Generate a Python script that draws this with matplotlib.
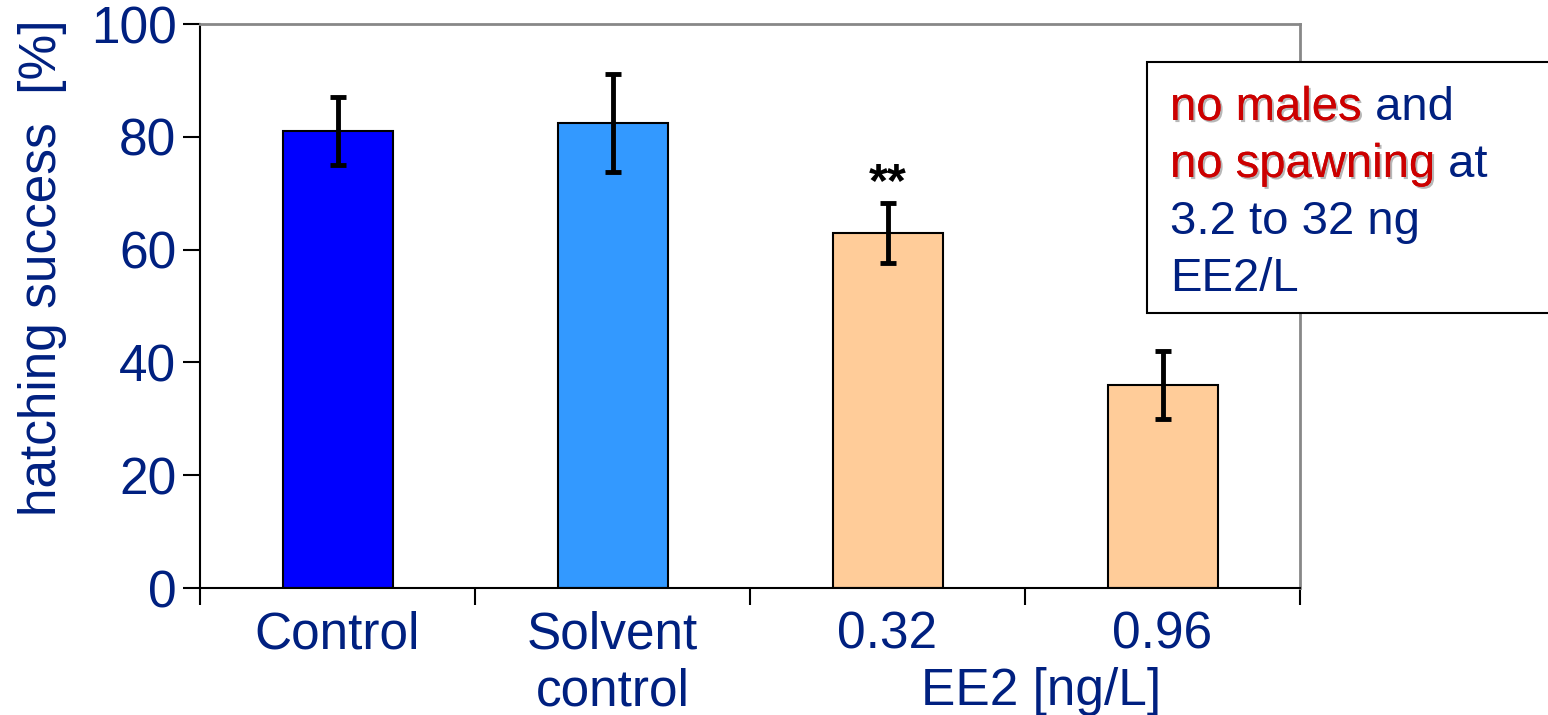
import matplotlib
matplotlib.use('Agg')
from matplotlib import pyplot as plt
from matplotlib import patheffects as pe
from matplotlib.patches import Rectangle

plt.rcParams['font.family'] = ['Liberation Sans', 'DejaVu Sans']

# data
skupine = ['Control', 'Solvent\ncontrol', '0.32', '0.96']
uspjeh = [81, 82.5, 63, 36]
greska = [6, 8.7, 5.3, 6]
boje = ['#0000FF', '#3399FF', '#FFCC99', '#FFCC99']
zvjezdice = ['', '', '**', '']

tekst_boja = '#002080'
crvena = '#CC0000'
W, H = 1548, 715

fig = plt.figure(figsize=(W / 100, H / 100), dpi=100)
ax = fig.add_axes([200 / W, 1 - 588 / H, 1100 / W, 564 / H])

pozicije = list(range(len(skupine)))
ax.bar(pozicije, uspjeh, width=0.4, color=boje, edgecolor='black', linewidth=1.5, zorder=2)
ax.errorbar(pozicije, uspjeh, yerr=greska, fmt='none', ecolor='black',
            elinewidth=3.5, capsize=6, capthick=3.5, zorder=3)

for p, v, e, z in zip(pozicije, uspjeh, greska, zvjezdice):
    if z:
        ax.text(p, v + e + 1.2, z, ha='center', va='baseline', fontsize=35,
                fontweight='bold', color='black')

ax.set_xlim(-0.5, len(skupine) - 0.5)
ax.set_ylim(0, 100)
ax.set_yticks([0, 20, 40, 60, 80, 100])
ax.set_xticks(pozicije)
ax.set_xticklabels(skupine, fontsize=37, color=tekst_boja, linespacing=1.22, va='top')
ax.set_xticks([p - 0.5 for p in pozicije] + [len(skupine) - 0.5], minor=True)
ax.tick_params(axis='x', which='major', length=0, pad=16)
ax.tick_params(axis='x', which='minor', length=12, width=1.5, direction='out', color='black')
ax.tick_params(axis='y', length=12, width=1.5, direction='out', labelsize=37,
               labelcolor=tekst_boja, pad=5)

fig.text(43 / W, 1 - 268 / H, 'hatching success  [%]', rotation=90, fontsize=37,
         color=tekst_boja, ha='center', va='center')
ax.text(2.56, (588 - 705) / 564, 'EE2 [ng/L]', transform=ax.get_xaxis_transform(),
        ha='center', va='baseline', fontsize=37, color=tekst_boja)

for s in ['left', 'bottom']:
    ax.spines[s].set_color('black')
    ax.spines[s].set_linewidth(1.5)
for s in ['top', 'right']:
    ax.spines[s].set_color('#888888')
    ax.spines[s].set_linewidth(2)

# okvir s napomenom
okvir = Rectangle((1147 / W, 1 - 313 / H), 420 / W, 251 / H,
                  transform=fig.transFigure, facecolor='white', edgecolor='black',
                  linewidth=1.5, clip_on=False, zorder=5)
fig.patches.append(okvir)

sjena = [pe.withSimplePatchShadow(offset=(1.5, -1.5), shadow_rgbFace='#999999', alpha=0.7),
         pe.Normal()]
linije = [
    [('no males', crvena), (' and', tekst_boja)],
    [('no spawning', crvena), (' at', tekst_boja)],
    [('3.2 to 32 ng', tekst_boja)],
    [('EE2/L', tekst_boja)],
]
renderer = fig.canvas.get_renderer()
for i, linija in enumerate(linije):
    y = 1 - (120 + i * 57) / H
    x = 1170 / W
    for dio, b in linija:
        efekti = sjena if b == crvena else None
        t = fig.text(x, y, dio, fontsize=34, color=b, ha='left', va='baseline',
                     zorder=6, path_effects=efekti)
        x = t.get_window_extent(renderer).x1 / W

fig.savefig('out.png', dpi=100)
